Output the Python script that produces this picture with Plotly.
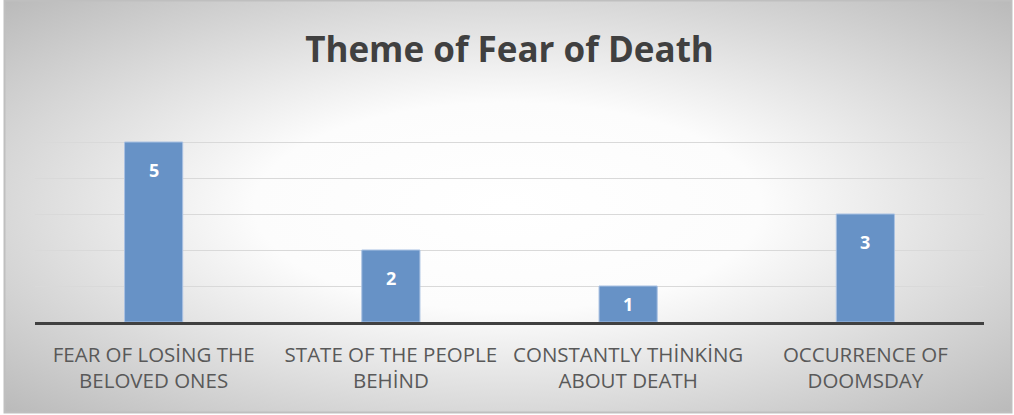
import base64
import plotly.graph_objects as go

categories = ["FEAR OF LOSİNG THE<br>BELOVED ONES", "STATE OF THE PEOPLE<br>BEHİND",
              "CONSTANTLY THİNKİNG<br>ABOUT DEATH", "OCCURRENCE OF<br>DOOMSDAY"]
values = [5, 2, 1, 3]
title_text = "Theme of Fear of Death"

W, H = 1014, 415
ML, MR, MT, MB = 35, 30, 106, 93
PW, PH = W - ML - MR, H - MT - MB
FONT = "Open Sans, Lato, sans-serif"

svg = f'''<svg xmlns="http://www.w3.org/2000/svg" width="{W}" height="{H}" viewBox="0 0 {W} {H}">
<defs><radialGradient id="g" cx="50%" cy="50%" r="72%">
<stop offset="0" stop-color="#ffffff"/><stop offset="0.35" stop-color="#fcfcfc"/>
<stop offset="1" stop-color="#b8b8b8"/></radialGradient></defs>
<rect x="0" y="0" width="{W}" height="{H}" fill="#ffffff"/>
<rect x="4.5" y="0.5" width="{W-7}" height="{H-3}" fill="url(#g)" stroke="#bfbfbf" stroke-width="2"/>
</svg>'''
src = "data:image/svg+xml;base64," + base64.b64encode(svg.encode()).decode()

fig = go.Figure()
fig.add_trace(go.Bar(
    x=categories, y=values,
    marker=dict(color="#6792c6", line=dict(color="#a9c1e2", width=1)),
    width=0.245, hoverinfo="skip"
))

# labels placed "inside end" like Excel
px_per_unit = PH / 6.0
for c, v in zip(categories, values):
    ly = max(v - 28 / px_per_unit, v / 2)
    fig.add_annotation(x=c, y=ly, text=f"<b>{v}</b>", showarrow=False,
                       font=dict(family=FONT, size=18, color="#ffffff"))

fig.add_layout_image(dict(source=src, xref="paper", yref="paper",
                          x=-ML / PW, y=1 + MT / PH, sizex=W / PW, sizey=H / PH,
                          xanchor="left", yanchor="top", sizing="stretch", layer="below"))

fig.update_layout(
    width=W, height=H,
    margin=dict(l=ML, r=MR, t=MT, b=MB),
    paper_bgcolor="#ffffff", plot_bgcolor="rgba(0,0,0,0)",
    showlegend=False,
    title=dict(text=f"<b>{title_text}</b>", x=0.5, xanchor="center", xref="paper",
               y=1 - 50 / H, yanchor="middle",
               font=dict(family=FONT, size=35, color="#404040")),
    xaxis=dict(showline=True, linecolor="#404040", linewidth=3, ticks="",
               showgrid=False, fixedrange=True, ticklabelstandoff=12,
               tickfont=dict(family=FONT, size=20.5, color="#595959")),
    yaxis=dict(range=[0, 6], dtick=1, showticklabels=False, showgrid=True,
               gridcolor="#d9d9d9", gridwidth=1, zeroline=False, fixedrange=True),
)
fig.write_html("out.html", config={"displayModeBar": False},
               post_script="document.body.style.margin='0';document.body.style.overflow='hidden';")
